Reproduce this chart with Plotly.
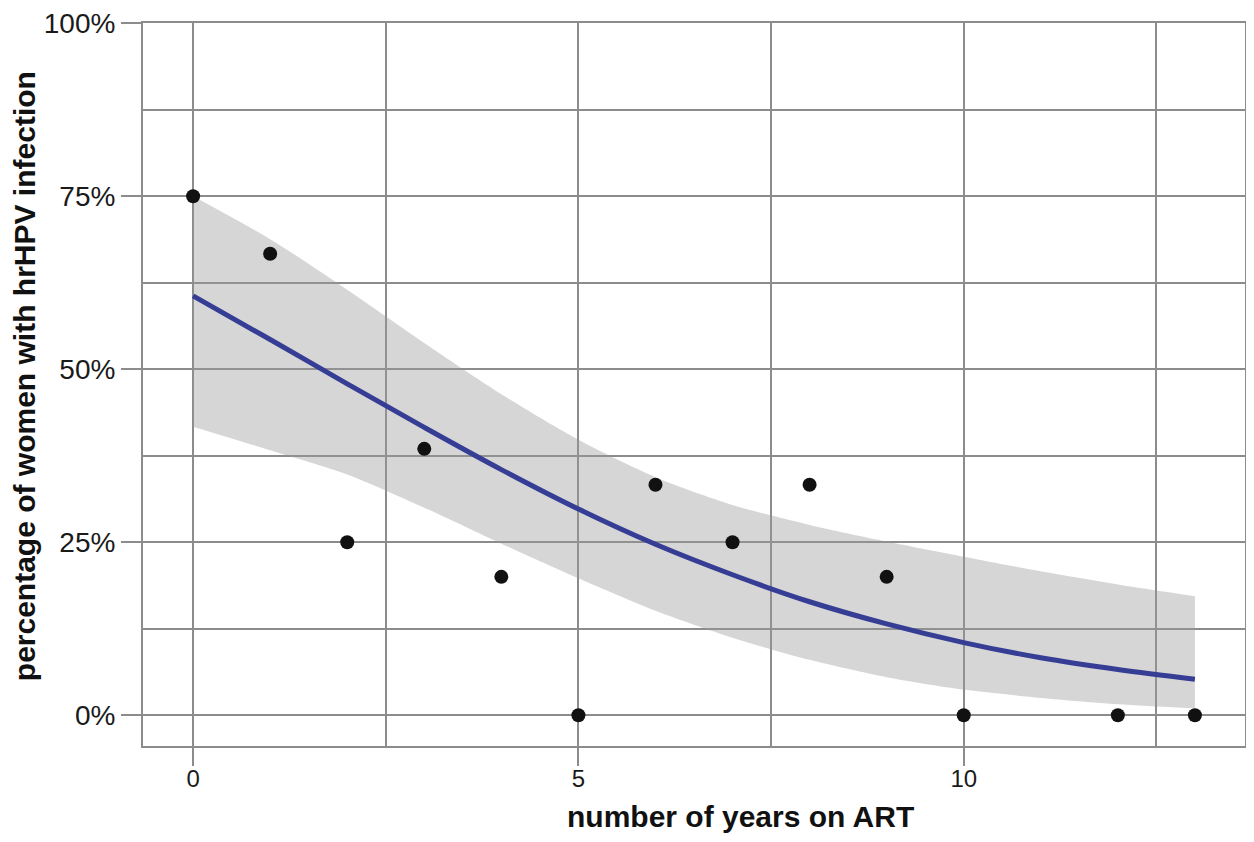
import plotly.graph_objects as go

# observed data: years on ART vs % of women with hrHPV infection
years = [0, 1, 2, 3, 4, 5, 6, 7, 8, 9, 10, 12, 13]
pct = [75, 66.7, 25, 38.5, 20, 0, 33.3, 25, 33.3, 20, 0, 0, 0]

# fitted curve and confidence band
fit_x = [0, 1, 2, 3, 4, 5, 6, 7, 8, 9, 10, 11, 12, 13]
fit_y = [60.6, 54.3, 47.9, 41.6, 35.5, 29.8, 24.7, 20.3, 16.4, 13.2, 10.5, 8.3, 6.6, 5.2]
band_upper = [75, 68.8, 61.5, 53.8, 46.4, 39.8, 34.4, 30.4, 27.5, 25.1, 22.9, 20.8, 18.9, 17.2]
band_lower = [41.7, 38.3, 34.8, 30.0, 24.8, 19.8, 15.1, 11.2, 8.0, 5.5, 3.7, 2.5, 1.6, 1.0]

x_ticks = [0, 5, 10]
y_ticks = [0, 25, 50, 75, 100]

GRID = "#8c8c8c"
FONT = "Liberation Sans, Arial, sans-serif"

fig = go.Figure()

fig.add_trace(go.Scatter(
    x=fit_x, y=band_lower, mode="lines",
    line=dict(width=0, shape="spline", smoothing=0.8),
    hoverinfo="skip", showlegend=False,
))
fig.add_trace(go.Scatter(
    x=fit_x, y=band_upper, mode="lines",
    line=dict(width=0, shape="spline", smoothing=0.8),
    fill="tonexty", fillcolor="rgba(153,153,153,0.4)",
    hoverinfo="skip", showlegend=False,
))
fig.add_trace(go.Scatter(
    x=fit_x, y=fit_y, mode="lines",
    line=dict(color="#363d95", width=5, shape="spline"),
    showlegend=False,
))
fig.add_trace(go.Scatter(
    x=years, y=pct, mode="markers",
    marker=dict(color="#111111", size=14),
    showlegend=False,
))

fig.update_layout(
    width=1246, height=834,
    margin=dict(l=135, r=9, t=15, b=96),
    paper_bgcolor="white", plot_bgcolor="white",
    font=dict(family=FONT, color="#1a1a1a"),
    xaxis=dict(
        range=[-0.65, 13.65], tickmode="array", tickvals=x_ticks,
        ticktext=[str(v) for v in x_ticks],
        showgrid=True, gridcolor=GRID, gridwidth=1.5,
        minor=dict(tickmode="array", tickvals=[2.5, 7.5, 12.5], showgrid=True,
                   gridcolor=GRID, gridwidth=1.5, ticks=""),
        ticks="outside", ticklen=18, tickwidth=2, tickcolor=GRID,
        ticklabelstandoff=-8, automargin=False,
        showline=True, mirror=True, linecolor=GRID, linewidth=2,
        tickfont=dict(size=24, family=FONT, color="#1a1a1a"),
        zeroline=False,
    ),
    yaxis=dict(
        range=[-4.45, 100.05], tickmode="array", tickvals=y_ticks,
        ticktext=[f"{v}%" for v in y_ticks],
        showgrid=True, gridcolor=GRID, gridwidth=1.5,
        minor=dict(tickmode="array", tickvals=[12.5, 37.5, 62.5, 87.5], showgrid=True,
                   gridcolor=GRID, gridwidth=1.5, ticks=""),
        ticks="outside", ticklen=20, tickwidth=2, tickcolor=GRID,
        automargin=False,
        showline=True, mirror=True, linecolor=GRID, linewidth=2,
        tickfont=dict(size=28, family=FONT, color="#1a1a1a"),
        zeroline=False,
    ),
    annotations=[
        dict(text="<b>number of years on ART</b>", xref="x", yref="paper",
             x=7.1, y=0, yshift=-70, xanchor="center", yanchor="middle",
             showarrow=False, font=dict(size=30, family=FONT, color="#111111")),
        dict(text="<b>percentage of women with hrHPV infection</b>", xref="paper", yref="y",
             x=0, y=49, xshift=-119, xanchor="center", yanchor="middle", textangle=-90,
             showarrow=False, font=dict(size=30, family=FONT, color="#111111")),
    ],
)

fig.write_html("out.html")
